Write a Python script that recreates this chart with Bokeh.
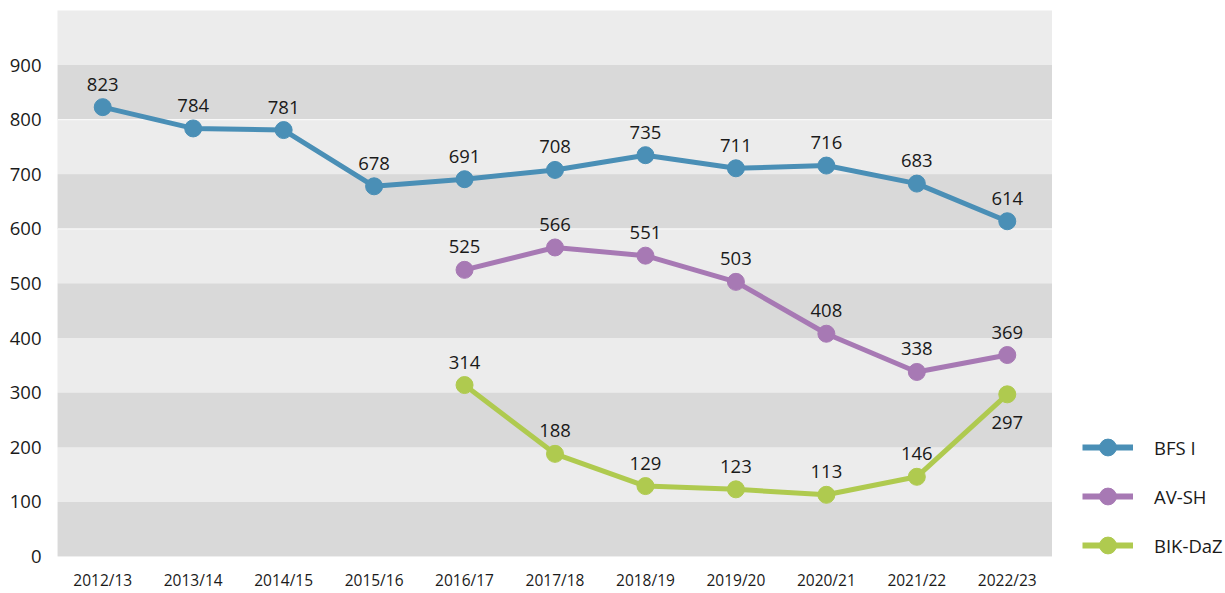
from bokeh.plotting import figure
from bokeh.layouts import row
from bokeh.models import ColumnDataSource, Legend, LegendItem, BoxAnnotation, Span, FixedTicker, LabelSet
from bokeh.embed import file_html
from bokeh.resources import INLINE
from bokeh.core.properties import value

years = ["2012/13", "2013/14", "2014/15", "2015/16", "2016/17", "2017/18",
         "2018/19", "2019/20", "2020/21", "2021/22", "2022/23"]
bfs = [823, 784, 781, 678, 691, 708, 735, 711, 716, 683, 614]
avsh = [None, None, None, None, 525, 566, 551, 503, 408, 338, 369]
bikdaz = [None, None, None, None, 314, 188, 129, 123, 113, 146, 297]
series_names = ["BFS I", "AV-SH", "BIK-DaZ"]
series_colors = ["#4a8fb6", "#a779b4", "#afca4f"]
y_ticks = [0, 100, 200, 300, 400, 500, 600, 700, 800, 900]

FONT = "Open Sans"
TXT = "#1a1a1a"
H = 593

p = figure(x_range=years, y_range=(0, 1000), width=1052, height=H,
           output_backend="svg", toolbar_location=None,
           min_border_left=57, min_border_right=0, min_border_top=10, min_border_bottom=37)
p.x_range.range_padding = 0
p.outline_line_color = None
p.background_fill_color = "#ececec"
p.border_fill_color = "white"
p.xgrid.grid_line_color = None
p.ygrid.grid_line_color = None

# alternating bands
for lo in range(0, 1000, 200):
    p.add_layout(BoxAnnotation(bottom=lo, top=lo + 100, fill_color="#d9d9d9",
                               fill_alpha=1, line_color=None, level="underlay"))
for yv in (600, 800):
    p.add_layout(Span(location=yv, dimension="width", line_color="white",
                      line_width=1, level="underlay"))

p.yaxis.ticker = FixedTicker(ticks=y_ticks)
for ax in (p.xaxis[0], p.yaxis[0]):
    ax.axis_line_color = None
    ax.major_tick_line_color = None
    ax.minor_tick_line_color = None
    ax.major_tick_out = 0
    ax.major_tick_in = 0
    ax.minor_tick_out = 0
    ax.major_label_text_font = FONT
    ax.major_label_text_color = TXT
p.yaxis.major_label_text_font_size = "18.5px"
p.yaxis.major_label_standoff = 16
p.xaxis.major_label_text_font_size = "15.5px"
p.xaxis.major_label_standoff = 12

# legend figure (no axes)
lg = figure(width=173, height=H, output_backend="svg", toolbar_location=None,
            min_border=0, x_axis_location=None, y_axis_location=None,
            x_range=(0, 1), y_range=(0, 1))
lg.grid.visible = False
lg.outline_line_color = None
lg.background_fill_color = "white"

items = []
all_series = [bfs, avsh, bikdaz]
for name, vals, col in zip(series_names, all_series, series_colors):
    xs = [y for y, v in zip(years, vals) if v is not None]
    ys = [v for v in vals if v is not None]
    offs = [23] * len(ys)
    # last BIK-DaZ label sits below its point
    if name == "BIK-DaZ":
        offs[-1] = -28
    src = ColumnDataSource(dict(x=xs, y=ys, lbl=[str(v) for v in ys], off=offs))
    p.line("x", "y", source=src, line_color=col, line_width=5)
    p.scatter("x", "y", source=src, size=17, fill_color=col, line_color=col)
    p.add_layout(LabelSet(x="x", y="y", text="lbl", source=src, y_offset="off",
                          text_align="center", text_baseline="middle",
                          text_font=value(FONT), text_font_size="18.5px",
                          text_color=TXT))
    # placeholder renderers (no visible data) that only feed the legend swatches
    dummy = ColumnDataSource(dict(x=[float("nan")], y=[float("nan")]))
    l2 = lg.line("x", "y", source=dummy, line_color=col, line_width=6)
    c2 = lg.scatter("x", "y", source=dummy, size=17, fill_color=col, line_color=col)
    items.append(LegendItem(label=name, renderers=[l2, c2]))

legend = Legend(items=items, location=(30, -10), orientation="vertical",
                glyph_width=51, glyph_height=42, label_height=20, spacing=7,
                label_standoff=21, padding=0, margin=0,
                border_line_color=None, background_fill_alpha=0,
                label_text_font=FONT, label_text_font_size="18.5px",
                label_text_color=TXT)
lg.add_layout(legend, "center")

layout = row(p, lg, spacing=0)
open("out.html", "w").write(file_html(layout, INLINE))
